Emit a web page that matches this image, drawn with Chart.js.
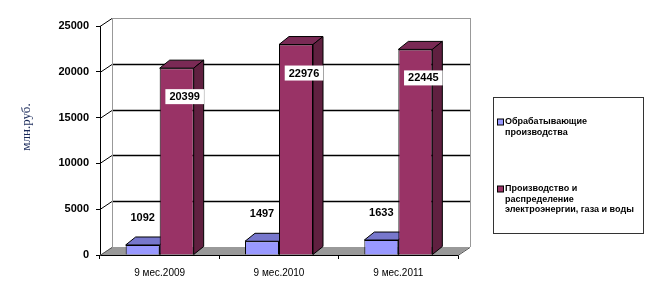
<!DOCTYPE html>
<html>
<head>
<meta charset="utf-8">
<script src="https://cdn.jsdelivr.net/npm/chart.js@4.4.1/dist/chart.umd.min.js"></script>
<style>
  html, body { margin: 0; padding: 0; background: #fff; }
  #wrap { width: 661px; height: 297px; }
</style>
</head>
<body>
<div id="wrap"><canvas id="chart" width="661" height="297"></canvas></div>
<script>
// chart data
const categories = ["9 мес.2009", "9 мес.2010", "9 мес.2011"];
const manufacturing = [1092, 1497, 1633];
const energy = [20399, 22976, 22445];
const seriesNames = [
  ["Обрабатывающие", "производства"],
  ["Производство и", "распределение", "электроэнергии, газа и воды"]
];
const yTicks = [0, 5000, 10000, 15000, 20000, 25000];
const yTitle = "млн.руб.";

// 3d look
const WALL_DX = 12, WALL_DY = 8;
const BAR_DX = 10, BAR_DY = 8;
const faces = [
  { front: "#9999ff", top: "#7777cc", side: "#6666b0" },
  { front: "#993366", top: "#7a2a55", side: "#602040" }
];

function poly(ctx, pts, fill, stroke) {
  ctx.beginPath();
  ctx.moveTo(pts[0][0], pts[0][1]);
  for (let i = 1; i < pts.length; i++) ctx.lineTo(pts[i][0], pts[i][1]);
  ctx.closePath();
  if (fill) { ctx.fillStyle = fill; ctx.fill(); }
  if (stroke) { ctx.strokeStyle = stroke; ctx.lineWidth = 1; ctx.stroke(); }
}

const walls = {
  id: "walls",
  beforeDatasetsDraw(chart) {
    const ctx = chart.ctx;
    const y = chart.scales.y, x = chart.scales.x;
    const l = x.left, r = x.right, b = y.getPixelForValue(0);
    ctx.save();
    // floor
    poly(ctx, [[l, b], [r, b], [r + WALL_DX, b - WALL_DY], [l + WALL_DX, b - WALL_DY]], "#999999", null);
    // grid on back wall and side wall
    yTicks.forEach(v => {
      const py = Math.round(y.getPixelForValue(v)) + 0.5;
      ctx.beginPath();
      ctx.strokeStyle = v === 0 ? "#555" : "#000";
      ctx.lineWidth = 1;
      ctx.moveTo(l, py);
      ctx.lineTo(l + WALL_DX, py - WALL_DY);
      ctx.stroke();
      if (v > 0) {
        ctx.beginPath();
        ctx.strokeStyle = v === 25000 ? "#999" : "#000";
        ctx.lineWidth = v === 25000 ? 1 : 1.5;
        ctx.moveTo(l + WALL_DX, py - WALL_DY);
        ctx.lineTo(r + WALL_DX, py - WALL_DY);
        ctx.stroke();
      }
    });
    const top = y.getPixelForValue(25000) - WALL_DY;
    ctx.strokeStyle = "#999";
    ctx.lineWidth = 1;
    ctx.beginPath();
    ctx.moveTo(l + WALL_DX + 0.5, top);
    ctx.lineTo(l + WALL_DX + 0.5, b - WALL_DY);
    ctx.moveTo(r + WALL_DX + 0.5, top);
    ctx.lineTo(r + WALL_DX + 0.5, b - WALL_DY);
    ctx.stroke();
    ctx.strokeStyle = "#555";
    ctx.beginPath();
    ctx.moveTo(r, b + 0.5);
    ctx.lineTo(r + WALL_DX, b - WALL_DY + 0.5);
    ctx.stroke();
    // top and side faces of the bars, fronts are drawn over them by Chart.js
    chart.data.datasets.forEach((ds, di) => {
      chart.getDatasetMeta(di).data.forEach(bar => {
        const x1 = bar.x - bar.width / 2, x2 = bar.x + bar.width / 2;
        const t = bar.y, bb = bar.base;
        poly(ctx, [[x1, t], [x1 + BAR_DX, t - BAR_DY], [x2 + BAR_DX, t - BAR_DY], [x2, t]], faces[di].top, "#000");
        poly(ctx, [[x2, t], [x2 + BAR_DX, t - BAR_DY], [x2 + BAR_DX, bb - BAR_DY], [x2, bb]], faces[di].side, "#000");
      });
    });
    ctx.restore();
  },
  afterDraw(chart) {
    const ctx = chart.ctx;
    ctx.save();
    // axis title
    ctx.save();
    ctx.translate(27, 127);
    ctx.rotate(-Math.PI / 2);
    ctx.font = "13px 'Times New Roman', 'Liberation Serif'";
    ctx.fillStyle = "#1a2a5a";
    ctx.textAlign = "center";
    ctx.textBaseline = "middle";
    ctx.fillText(yTitle, 0, 0);
    ctx.restore();
    ctx.font = "bold 11px Arial, 'Liberation Sans'";
    ctx.textAlign = "center";
    ctx.textBaseline = "middle";
    chart.getDatasetMeta(0).data.forEach((bar, i) => {
      ctx.fillStyle = "#000";
      ctx.fillText(String(manufacturing[i]), bar.x, bar.y - 27);
    });
    chart.getDatasetMeta(1).data.forEach((bar, i) => {
      const txt = String(energy[i]);
      const cx = bar.x + 8, cy = bar.y + 28;
      const w = ctx.measureText(txt).width + 8;
      ctx.fillStyle = "#fff";
      ctx.fillRect(cx - w / 2, cy - 7, w, 15);
      ctx.fillStyle = "#000";
      ctx.fillText(txt, cx, cy + 1);
    });
    // legend
    const lx = 493.5, ly = 97.5, lw = 150, lh = 136;
    ctx.strokeStyle = "#333";
    ctx.lineWidth = 1;
    ctx.strokeRect(lx, ly, lw, lh);
    ctx.font = "bold 9px Arial, 'Liberation Sans'";
    ctx.textAlign = "left";
    const starts = [122, 189];
    seriesNames.forEach((lines, si) => {
      const sy = starts[si];
      ctx.fillStyle = faces[si].front;
      ctx.fillRect(497.5, sy - 3, 6, 6);
      ctx.strokeStyle = "#000";
      ctx.strokeRect(497.5, sy - 3, 6, 6);
      ctx.fillStyle = "#000";
      lines.forEach((ln, k) => ctx.fillText(ln, 505, sy + k * 10.5));
    });
    ctx.restore();
  }
};

new Chart(document.getElementById("chart"), {
  type: "bar",
  data: {
    labels: categories,
    datasets: [
      { label: seriesNames[0].join(" "), data: manufacturing, backgroundColor: faces[0].front, borderColor: "#000", borderWidth: 1, categoryPercentage: 0.57, barPercentage: 1 },
      { label: seriesNames[1].join(" "), data: energy, backgroundColor: faces[1].front, borderColor: "#000", borderWidth: 1, categoryPercentage: 0.57, barPercentage: 1 }
    ]
  },
  options: {
    responsive: false,
    animation: false,
    layout: { padding: { top: 26, right: 203, bottom: 0, left: 0 } },
    plugins: { legend: { display: false }, tooltip: { enabled: false } },
    scales: {
      x: {
        afterFit: s => { s.height = 42; },
        grid: { display: true, drawOnChartArea: false, tickLength: 4, color: "#000" },
        border: { color: "#000" },
        ticks: { color: "#000", font: { family: "Arial, 'Liberation Sans'", size: 10 }, padding: 8 }
      },
      y: {
        min: 0,
        max: 25000,
        afterFit: s => { s.width = 100; },
        afterBuildTicks: s => { s.ticks = yTicks.map(v => ({ value: v })); },
        grid: { display: true, drawOnChartArea: false, tickLength: 4, color: "#000" },
        border: { color: "#000" },
        ticks: { color: "#000", font: { family: "Arial, 'Liberation Sans'", size: 11, weight: "bold" }, padding: 7, callback: v => String(v) }
      }
    }
  },
  plugins: [walls]
});
</script>
</body>
</html>
